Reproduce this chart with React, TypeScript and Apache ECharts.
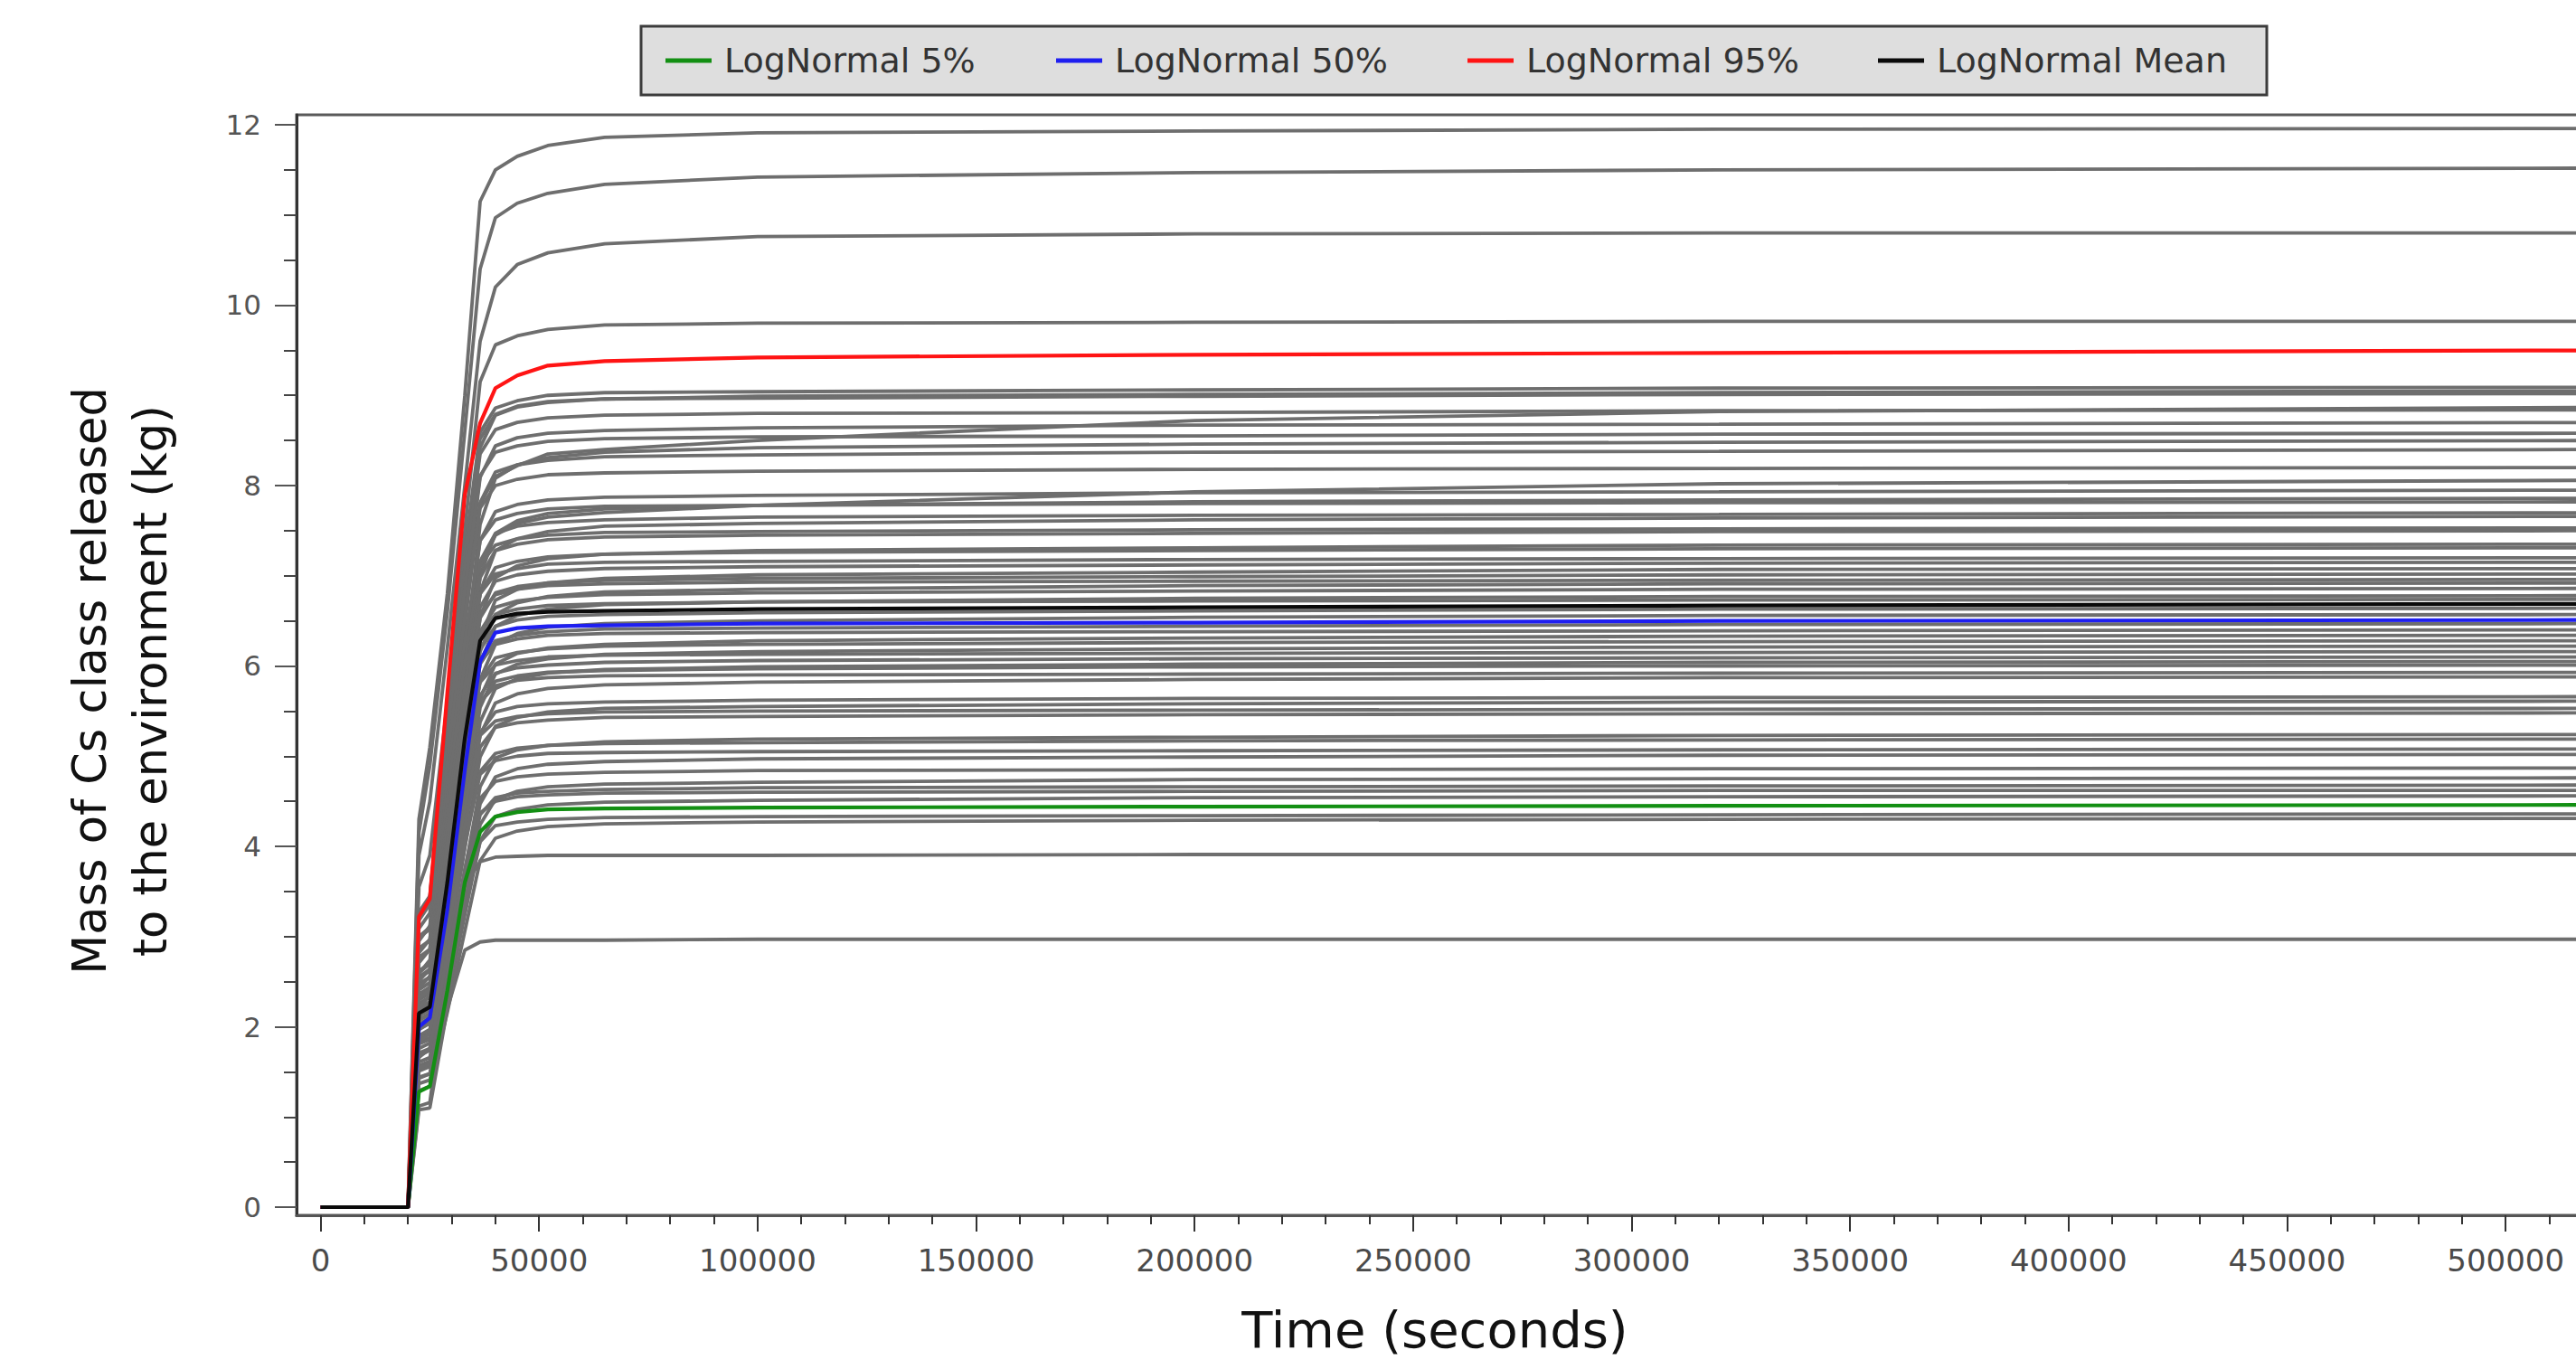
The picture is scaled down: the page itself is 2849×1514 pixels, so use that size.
import React, { useEffect, useRef } from "react";
import * as echarts from "echarts";

// Time samples (seconds) shared by every curve
const T = [0, 20000, 22500, 25000, 29000, 33000, 36500, 40000, 45000, 52000, 65000, 100000, 200000, 320000, 530000];

// Statistic curves (kg)
const logNormal5 = [0, 0, 1.28, 1.34, 2.4, 3.6, 4.16, 4.33, 4.38, 4.41, 4.42, 4.43, 4.44, 4.45, 4.46];
const logNormal50 = [0, 0, 2.0, 2.1, 3.3, 4.85, 6.05, 6.37, 6.42, 6.44, 6.45, 6.47, 6.48, 6.5, 6.51];
const logNormal95 = [0, 0, 3.22, 3.42, 5.7, 7.9, 8.69, 9.08, 9.22, 9.33, 9.38, 9.42, 9.45, 9.47, 9.5];
const logNormalMean = [0, 0, 2.15, 2.22, 3.6, 5.2, 6.28, 6.53, 6.58, 6.6, 6.61, 6.63, 6.65, 6.67, 6.69];

// Individual sampled runs (kg), one row per run, values at T
const runs = [
  [0, 0, 4.3, 5.1, 6.8, 9.0, 11.15, 11.5, 11.65, 11.77, 11.86, 11.91, 11.93, 11.95, 11.96],
  [0, 0, 4.15, 4.9, 6.6, 8.6, 10.4, 10.97, 11.13, 11.24, 11.34, 11.42, 11.47, 11.5, 11.52],
  [0, 0, 3.9, 4.5, 6.2, 8.0, 9.6, 10.2, 10.45, 10.58, 10.68, 10.76, 10.79, 10.8, 10.8],
  [0, 0, 3.55, 3.9, 5.6, 7.5, 9.15, 9.56, 9.66, 9.73, 9.78, 9.8, 9.81, 9.82, 9.82],
  [0, 0, 3.27, 3.45, 5.45, 7.27, 8.59, 8.86, 8.94, 9.0, 9.03, 9.04, 9.06, 9.08, 9.09],
  [0, 0, 2.99, 3.08, 4.98, 6.97, 8.42, 8.78, 8.87, 8.92, 8.96, 8.99, 9.01, 9.03, 9.05],
  [0, 0, 3.25, 3.43, 5.41, 7.22, 8.52, 8.79, 8.88, 8.93, 8.96, 8.97, 8.99, 9.01, 9.02],
  [0, 0, 3.0, 3.1, 4.7, 6.5, 7.8, 8.1, 8.22, 8.35, 8.4, 8.5, 8.72, 8.82, 8.87],
  [0, 0, 3.18, 3.36, 5.3, 7.07, 8.35, 8.62, 8.7, 8.75, 8.78, 8.8, 8.81, 8.83, 8.84],
  [0, 0, 2.87, 2.96, 4.79, 6.7, 8.09, 8.44, 8.53, 8.58, 8.61, 8.64, 8.67, 8.68, 8.7],
  [0, 0, 3.09, 3.26, 5.15, 6.86, 8.11, 8.37, 8.44, 8.49, 8.52, 8.54, 8.55, 8.57, 8.58],
  [0, 0, 2.55, 2.64, 4.25, 6.04, 7.57, 8.08, 8.23, 8.31, 8.37, 8.42, 8.46, 8.48, 8.5],
  [0, 0, 2.77, 2.86, 4.62, 6.47, 7.81, 8.15, 8.23, 8.28, 8.32, 8.34, 8.37, 8.38, 8.4],
  [0, 0, 2.95, 3.12, 4.92, 6.56, 7.75, 8.0, 8.07, 8.12, 8.14, 8.16, 8.18, 8.19, 8.2],
  [0, 0, 2.6, 2.7, 4.3, 6.0, 7.1, 7.45, 7.58, 7.65, 7.7, 7.78, 7.93, 8.02, 8.06],
  [0, 0, 2.62, 2.7, 4.37, 6.12, 7.39, 7.71, 7.79, 7.84, 7.87, 7.89, 7.92, 7.93, 7.95],
  [0, 0, 2.36, 2.44, 3.93, 5.58, 7.0, 7.47, 7.61, 7.69, 7.74, 7.78, 7.82, 7.84, 7.86],
  [0, 0, 2.82, 2.97, 4.69, 6.26, 7.39, 7.62, 7.69, 7.74, 7.77, 7.78, 7.8, 7.81, 7.82],
  [0, 0, 2.54, 2.62, 4.24, 5.93, 7.16, 7.47, 7.55, 7.59, 7.62, 7.65, 7.67, 7.68, 7.7],
  [0, 0, 2.3, 2.37, 3.83, 5.44, 6.82, 7.28, 7.41, 7.49, 7.55, 7.58, 7.62, 7.64, 7.66],
  [0, 0, 2.71, 2.86, 4.52, 6.02, 7.12, 7.34, 7.41, 7.45, 7.48, 7.49, 7.51, 7.52, 7.53],
  [0, 0, 2.48, 2.55, 4.13, 5.78, 6.98, 7.28, 7.35, 7.4, 7.43, 7.45, 7.47, 7.49, 7.5],
  [0, 0, 2.21, 2.28, 3.68, 5.22, 6.54, 6.98, 7.11, 7.19, 7.24, 7.28, 7.31, 7.34, 7.35],
  [0, 0, 2.41, 2.49, 4.02, 5.63, 6.8, 7.09, 7.16, 7.21, 7.24, 7.26, 7.28, 7.3, 7.31],
  [0, 0, 2.59, 2.74, 4.32, 5.76, 6.8, 7.02, 7.08, 7.13, 7.15, 7.16, 7.18, 7.19, 7.2],
  [0, 0, 2.36, 2.43, 3.93, 5.51, 6.65, 6.94, 7.01, 7.05, 7.08, 7.1, 7.12, 7.14, 7.15],
  [0, 0, 2.12, 2.19, 3.54, 5.03, 6.3, 6.73, 6.85, 6.92, 6.97, 7.01, 7.04, 7.07, 7.08],
  [0, 0, 2.32, 2.39, 3.86, 5.41, 6.53, 6.81, 6.88, 6.92, 6.95, 6.97, 6.99, 7.01, 7.02],
  [0, 0, 2.51, 2.64, 4.18, 5.57, 6.58, 6.79, 6.85, 6.89, 6.91, 6.93, 6.94, 6.95, 6.96],
  [0, 0, 2.08, 2.15, 3.46, 4.91, 6.16, 6.57, 6.7, 6.77, 6.82, 6.85, 6.89, 6.91, 6.92],
  [0, 0, 2.26, 2.33, 3.77, 5.28, 6.38, 6.65, 6.72, 6.76, 6.79, 6.81, 6.83, 6.85, 6.86],
  [0, 0, 2.03, 2.1, 3.39, 4.81, 6.03, 6.44, 6.56, 6.63, 6.68, 6.71, 6.75, 6.77, 6.78],
  [0, 0, 2.43, 2.56, 4.04, 5.39, 6.37, 6.57, 6.63, 6.67, 6.69, 6.71, 6.72, 6.73, 6.74],
  [0, 0, 2.19, 2.26, 3.65, 5.11, 6.18, 6.44, 6.51, 6.55, 6.57, 6.59, 6.61, 6.63, 6.64],
  [0, 0, 1.97, 2.04, 3.29, 4.66, 5.85, 6.24, 6.36, 6.43, 6.47, 6.5, 6.54, 6.56, 6.57],
  [0, 0, 2.14, 2.2, 3.56, 4.98, 6.02, 6.28, 6.34, 6.38, 6.41, 6.42, 6.44, 6.46, 6.47],
  [0, 0, 2.3, 2.43, 3.84, 5.12, 6.05, 6.24, 6.3, 6.34, 6.36, 6.37, 6.38, 6.39, 6.4],
  [0, 0, 1.9, 1.97, 3.17, 4.5, 5.64, 6.02, 6.14, 6.2, 6.24, 6.28, 6.31, 6.33, 6.34],
  [0, 0, 2.07, 2.14, 3.45, 4.84, 5.84, 6.09, 6.15, 6.19, 6.22, 6.24, 6.26, 6.27, 6.28],
  [0, 0, 1.87, 1.93, 3.11, 4.42, 5.54, 5.91, 6.02, 6.08, 6.13, 6.16, 6.19, 6.21, 6.22],
  [0, 0, 2.22, 2.34, 3.7, 4.93, 5.82, 6.01, 6.06, 6.1, 6.12, 6.13, 6.14, 6.15, 6.16],
  [0, 0, 2.01, 2.07, 3.36, 4.7, 5.67, 5.92, 5.98, 6.01, 6.04, 6.06, 6.08, 6.09, 6.1],
  [0, 0, 1.82, 1.88, 3.03, 4.3, 5.38, 5.75, 5.86, 5.92, 5.96, 5.99, 6.02, 6.04, 6.05],
  [0, 0, 1.98, 2.04, 3.31, 4.63, 5.59, 5.83, 5.89, 5.93, 5.95, 5.97, 5.99, 6.0, 6.01],
  [0, 0, 2.13, 2.25, 3.56, 4.74, 5.6, 5.78, 5.84, 5.87, 5.89, 5.9, 5.91, 5.92, 5.93],
  [0, 0, 1.76, 1.82, 2.94, 4.17, 5.23, 5.59, 5.69, 5.75, 5.79, 5.82, 5.85, 5.87, 5.88],
  [0, 0, 1.87, 1.92, 3.11, 4.36, 5.26, 5.49, 5.55, 5.58, 5.6, 5.62, 5.64, 5.65, 5.66],
  [0, 0, 1.68, 1.74, 2.81, 3.98, 4.99, 5.33, 5.43, 5.49, 5.53, 5.55, 5.58, 5.6, 5.61],
  [0, 0, 1.99, 2.1, 3.32, 4.42, 5.23, 5.39, 5.44, 5.47, 5.49, 5.5, 5.51, 5.52, 5.53],
  [0, 0, 1.81, 1.86, 3.01, 4.22, 5.1, 5.32, 5.37, 5.4, 5.43, 5.44, 5.46, 5.47, 5.48],
  [0, 0, 1.57, 1.62, 2.62, 3.72, 4.66, 4.98, 5.07, 5.12, 5.16, 5.19, 5.21, 5.23, 5.24],
  [0, 0, 1.71, 1.76, 2.85, 4.0, 4.83, 5.03, 5.09, 5.12, 5.14, 5.15, 5.17, 5.18, 5.19],
  [0, 0, 1.83, 1.93, 3.05, 4.06, 4.8, 4.95, 5.0, 5.03, 5.04, 5.05, 5.06, 5.07, 5.08],
  [0, 0, 1.51, 1.56, 2.51, 3.56, 4.47, 4.77, 4.86, 4.91, 4.94, 4.97, 4.99, 5.01, 5.02],
  [0, 0, 1.61, 1.66, 2.68, 3.75, 4.53, 4.72, 4.77, 4.8, 4.82, 4.84, 4.85, 4.86, 4.87],
  [0, 0, 1.43, 1.48, 2.38, 3.38, 4.24, 4.52, 4.61, 4.66, 4.69, 4.71, 4.74, 4.75, 4.76],
  [0, 0, 1.54, 1.59, 2.57, 3.6, 4.35, 4.54, 4.59, 4.61, 4.63, 4.65, 4.66, 4.67, 4.68],
  [0, 0, 1.66, 1.76, 2.77, 3.7, 4.37, 4.5, 4.55, 4.57, 4.59, 4.6, 4.61, 4.62, 4.62],
  [0, 0, 1.37, 1.41, 2.28, 3.24, 4.06, 4.33, 4.41, 4.46, 4.49, 4.51, 4.54, 4.55, 4.56],
  [0, 0, 1.44, 1.48, 2.4, 3.36, 4.05, 4.23, 4.27, 4.3, 4.32, 4.33, 4.34, 4.35, 4.36],
  [0, 0, 1.29, 1.34, 2.16, 3.06, 3.84, 4.09, 4.17, 4.22, 4.25, 4.27, 4.29, 4.3, 4.31],
  [0, 0, 1.12, 1.16, 2.6, 3.57, 3.83, 3.88, 3.89, 3.9, 3.9, 3.9, 3.91, 3.91, 3.91],
  [0, 0, 1.08, 1.1, 2.2, 2.85, 2.94, 2.96, 2.96, 2.96, 2.96, 2.97, 2.97, 2.97, 2.97],
];

// Axis ticks
const xMajorTicks = [0, 50000, 100000, 150000, 200000, 250000, 300000, 350000, 400000, 450000, 500000];
const xMinorTicks = [
  10000, 20000, 30000, 40000, 60000, 70000, 80000, 90000, 110000, 120000, 130000, 140000,
  160000, 170000, 180000, 190000, 210000, 220000, 230000, 240000, 260000, 270000, 280000, 290000,
  310000, 320000, 330000, 340000, 360000, 370000, 380000, 390000, 410000, 420000, 430000, 440000,
  460000, 470000, 480000, 490000, 510000, 520000,
];
const yMajorTicks = [0, 2, 4, 6, 8, 10, 12];
const yMinorTicks = [0.5, 1, 1.5, 2.5, 3, 3.5, 4.5, 5, 5.5, 6.5, 7, 7.5, 8.5, 9, 9.5, 10.5, 11, 11.5];

const legendNames = ["LogNormal 5%", "LogNormal 50%", "LogNormal 95%", "LogNormal Mean"];
const legendColors = ["#138f13", "#1f1ff0", "#ff1414", "#0a0a0a"];
const legendLefts = [736, 1168, 1623, 2077];

const FONT = "DejaVu Sans";

function pairs(vals: number[]) {
  return T.map((t, i) => [t, vals[i]]);
}

export default function App() {
  const ref = useRef<HTMLDivElement>(null);

  useEffect(() => {
    if (!ref.current) return;
    const chart = echarts.init(ref.current, undefined, { renderer: "svg" });

    const graySeries = runs.map((r, i) => ({
      type: "line",
      name: "run" + i,
      data: pairs(r),
      symbol: "none",
      showSymbol: false,
      silent: true,
      lineStyle: { color: "#6e6e6e", width: 3.8 },
      itemStyle: { color: "#6e6e6e" },
      emphasis: { disabled: true },
      z: 2,
    }));

    const statValues = [logNormal5, logNormal50, logNormal95, logNormalMean];
    const statSeries = statValues.map((vals, i) => ({
      type: "line",
      name: legendNames[i],
      data: pairs(vals),
      symbol: "none",
      showSymbol: false,
      silent: true,
      lineStyle: { color: legendColors[i], width: 4.2 },
      itemStyle: { color: legendColors[i] },
      emphasis: { disabled: true },
      z: 3,
    }));

    const xMin = -5500;
    const xMax = 525000;
    const yMin = -0.09;
    const yMax = 12.11;

    const option: any = {
      animation: false,
      backgroundColor: "#ffffff",
      grid: {
        left: 328,
        top: 127,
        right: -43,
        bottom: 170,
        containLabel: false,
        outerBoundsMode: "none",
        show: true,
        borderColor: "#5a5a5a",
        borderWidth: 3,
        backgroundColor: "transparent",
      },
      legend: legendNames.map((n, i) => ({
        data: [n],
        left: legendLefts[i],
        top: 47,
        padding: 0,
        icon: "rect",
        itemWidth: 51,
        itemHeight: 5,
        selectedMode: false,
        textStyle: {
          fontFamily: FONT,
          fontSize: 38,
          lineHeight: 40,
          color: "#333333",
          padding: [0, 0, 0, 9],
        },
      })),
      xAxis: [
        {
          type: "value",
          min: xMin,
          max: xMax,
          position: "bottom",
          axisLine: { show: true, onZero: false, lineStyle: { color: "#555555", width: 3 } },
          axisTick: { show: true, customValues: xMajorTicks, length: 18, lineStyle: { color: "#333333", width: 2 } },
          axisLabel: {
            show: true,
            customValues: xMajorTicks,
            formatter: (v: number) => String(v),
            fontFamily: FONT,
            fontSize: 34,
            color: "#4a4a4a",
            margin: 33,
          },
          splitLine: { show: false },
        },
        {
          type: "value",
          min: xMin,
          max: xMax,
          position: "bottom",
          axisLine: { show: false, onZero: false },
          axisTick: { show: true, customValues: xMinorTicks, length: 10, lineStyle: { color: "#333333", width: 2 } },
          axisLabel: { show: false },
          splitLine: { show: false },
        },
      ],
      yAxis: [
        {
          type: "value",
          min: yMin,
          max: yMax,
          position: "left",
          axisLine: { show: true, onZero: false, lineStyle: { color: "#333333", width: 3 } },
          axisTick: { show: true, customValues: yMajorTicks, length: 24, lineStyle: { color: "#555555", width: 2 } },
          axisLabel: {
            show: true,
            customValues: yMajorTicks,
            formatter: (v: number) => String(v),
            fontFamily: FONT,
            fontSize: 31,
            color: "#555555",
            margin: 39,
          },
          splitLine: { show: false },
        },
        {
          type: "value",
          min: yMin,
          max: yMax,
          position: "left",
          axisLine: { show: false, onZero: false },
          axisTick: { show: true, customValues: yMinorTicks, length: 14, lineStyle: { color: "#444444", width: 2 } },
          axisLabel: { show: false },
          splitLine: { show: false },
        },
      ],
      graphic: [
        {
          type: "rect",
          z: 0,
          shape: { x: 709, y: 29, width: 1798, height: 76 },
          style: { fill: "#dedede", stroke: "#3c3c3c", lineWidth: 3 },
          silent: true,
        },
        {
          type: "text",
          x: 1587,
          y: 1470,
          silent: true,
          style: {
            text: "Time (seconds)",
            fontFamily: FONT,
            fontSize: 56,
            fill: "#111111",
            align: "center",
            verticalAlign: "middle",
          },
        },
        {
          type: "text",
          x: 133,
          y: 753,
          rotation: Math.PI / 2,
          silent: true,
          style: {
            text: "Mass of Cs class released\nto the environment (kg)",
            fontFamily: FONT,
            fontSize: 51,
            lineHeight: 67,
            fill: "#111111",
            align: "center",
            verticalAlign: "middle",
          },
        },
      ],
      series: [...graySeries, ...statSeries],
    };

    chart.setOption(option);
    return () => {
      chart.dispose();
    };
  }, []);

  return (
    <div
      ref={ref}
      style={{ position: "absolute", left: 0, top: 0, width: 2849, height: 1514, background: "#fff" }}
    />
  );
}
